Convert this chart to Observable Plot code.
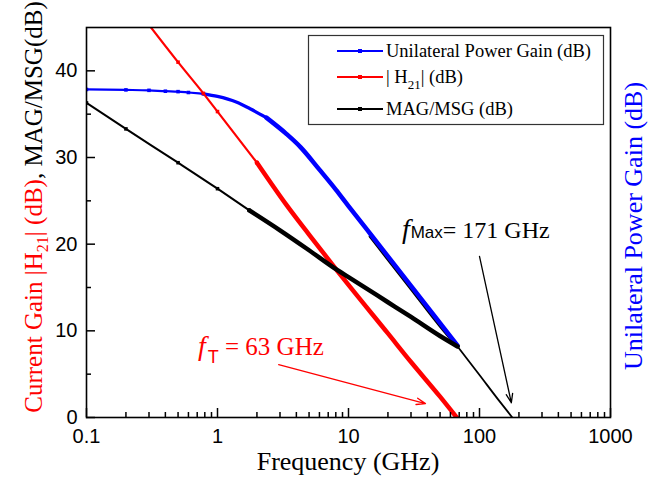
<!DOCTYPE html>
<html><head><meta charset="utf-8">
<script src="https://cdn.jsdelivr.net/npm/d3@7"></script>
<script src="https://cdn.jsdelivr.net/npm/@observablehq/plot@0.6"></script>
<style>
body{margin:0;background:#fff}
#chart{position:relative;width:658px;height:481px}
</style>
</head><body><div id="chart"></div>
<script>
// Unilateral power gain U (dB)
const freqU = [0.1, 0.2, 0.3, 0.4, 0.5, 0.6, 0.78, 1.0, 1.39, 1.79, 2.36, 3.37, 4.3, 6, 8, 10, 15, 20, 30, 50, 68];
const gainU = [37.85, 37.8, 37.75, 37.65, 37.6, 37.5, 37.35, 37.05, 36.4, 35.6, 34.6, 32.7, 31.2, 28.6, 26.3, 24.4, 21.0, 18.6, 15.2, 10.9, 8.3];
// |H21| (dB)
const freqH = [0.3, 0.5, 0.78, 1, 2, 3.37, 5, 8.24, 10, 20, 30, 50, 67];
const gainH = [45.3, 41.0, 37.4, 35.3, 29.4, 24.5, 21.1, 16.9, 15.3, 9.7, 6.4, 2.4, 0];
// MSG (dB)
const freqMsg = [0.1, 0.2, 0.5, 1, 1.75, 3, 5, 8.24, 10, 20, 30, 50, 68];
const gainMsg = [36.3, 33.3, 29.4, 26.4, 23.9, 21.6, 19.3, 17.0, 16.2, 13.3, 11.6, 9.4, 8.2];
// MAG (dB), along U, and its extrapolation to 0 dB
const freqMagU = [14.7, 20, 30, 50, 68];
const gainMagU = [20.9, 18.3, 14.9, 10.6, 8.2];
const freqMagTail = [68, 100, 140, 178];
const gainMagTail = [8.2, 4.9, 2.0, 0];

const seriesNames = ["Unilateral Power Gain (dB)", "|H21| (dB)", "MAG/MSG (dB)"];
const seriesColors = ["#0000ff", "#ff0000", "#000000"];

const xMajor = [0.1, 1, 10, 100, 1000];
const xMinor = [0.2,0.3,0.4,0.5,0.6,0.7,0.8,0.9,2,3,4,5,6,7,8,9,20,30,40,50,60,70,80,90,200,300,400,500,600,700,800,900];
const yMajor = [0, 10, 20, 30, 40];
const yMinor = [5, 15, 25, 35];

// annotation anchors (data units)
const fT = {label: "63 GHz", f: 0.716, v: 7.13};
const fMax = {label: "171 GHz", f: 25.8, v: 20.6};
const arrowsData = [
  {f1: 2.93, v1: 6.1, f2: 38.7, v2: 1.6, color: "#ff0000"},
  {f1: 100, v1: 18.6, f2: 175, v2: 1.7, color: "#000000"}
];

const rows = (fs, vs) => fs.map((f, i) => ({f, v: vs[i]}));
const rU = rows(freqU, gainU), rH = rows(freqH, gainH), rM = rows(freqMsg, gainMsg);
const rMU = rows(freqMagU, gainMagU), rMT = rows(freqMagTail, gainMagTail);
const seg = (r, a, b) => r.filter(d => d.f >= a && d.f <= b);

const serif = "'Liberation Serif','Times New Roman',serif";
const sans = "'Liberation Sans',Arial,sans-serif";

// inward tick lengths expressed in scale units (domain: x 0.1–1000 over 524px, y 0–45 over 390px)
const xTickMajorLen = 9 * 45 / 390, xTickMinorLen = 5 * 45 / 390;
const yTickMajorEnd = 0.1 * Math.pow(10, 9 / 131), yTickMinorEnd = 0.1 * Math.pow(10, 5 / 131);

const L = (data, stroke, w) => Plot.line(data, {x: "f", y: "v", stroke, strokeWidth: w, curve: "monotone-x", clip: true});
const D = (data, fill) => Plot.dot(data, {x: "f", y: "v", fill, r: 2, symbol: "square", clip: true});

const plot = Plot.plot({
  width: 658, height: 481,
  marginLeft: 86, marginRight: 48, marginTop: 27, marginBottom: 64,
  x: {type: "log", domain: [0.1, 1000]},
  y: {domain: [0, 45]},
  style: {fontFamily: sans, fontSize: "20px", color: "#000", background: "#fff", overflow: "visible"},
  marks: [
    L(rMU, "#000", 3.5),
    L(seg(rU, 0, 0.78), "#0000ff", 2.2),
    L(seg(rU, 0.78, 2.36), "#0000ff", 3.3),
    L(seg(rU, 2.36, 100), "#0000ff", 4.5),
    D(seg(rU, 0, 0.78), "#0000ff"),
    L(seg(rH, 0, 2), "#ff0000", 2.2),
    L(seg(rH, 2, 100), "#ff0000", 4.5),
    D(seg(rH, 0, 2), "#ff0000"),
    L(seg(rM, 0, 1.75), "#000", 2),
    L(seg(rM, 1.75, 100), "#000", 4.5),
    D(seg(rM, 0, 1.75), "#000"),
    L(rMT, "#000", 1.8),
    Plot.arrow(arrowsData, {x1: "f1", y1: "v1", x2: "f2", y2: "v2", stroke: "color", strokeWidth: 1.3, headLength: 11, headAngle: 40}),
    Plot.ruleX(xMajor, {x: d => d, y1: 0, y2: xTickMajorLen, stroke: "#000", strokeWidth: 1.5}),
    Plot.ruleX(xMinor, {x: d => d, y1: 0, y2: xTickMinorLen, stroke: "#000", strokeWidth: 1.5}),
    Plot.ruleY(yMajor, {y: d => d, x1: 0.1, x2: yTickMajorEnd, stroke: "#000", strokeWidth: 1.5}),
    Plot.ruleY(yMinor, {y: d => d, x1: 0.1, x2: yTickMinorEnd, stroke: "#000", strokeWidth: 1.5}),
    Plot.frame({stroke: "#000", strokeWidth: 1.6}),
    Plot.axisX({ticks: xMajor, tickSize: 0, tickPadding: 11, tickFormat: d => String(d), label: null, fontSize: 20}),
    Plot.axisY({ticks: yMajor, tickSize: 0, tickPadding: 9, tickFormat: d => String(d), label: null, fontSize: 20})
  ]
});
document.getElementById("chart").appendChild(plot);

const svg = d3.select(plot);
const xs = plot.scale("x"), ys = plot.scale("y");

// axis titles
svg.append("text").attr("x", 348).attr("y", 470).attr("text-anchor", "middle")
  .style("font-family", serif).style("font-size", "26px").attr("fill", "#000").text("Frequency (GHz)");

const yl = svg.append("text").attr("transform", "translate(42,207) rotate(-90)").attr("text-anchor", "middle")
  .style("font-family", serif).style("font-size", "25px");
yl.append("tspan").attr("fill", "#ff0000").text("Current Gain |H");
yl.append("tspan").attr("fill", "#ff0000").attr("dy", 6).style("font-size", "16px").text("21");
yl.append("tspan").attr("fill", "#ff0000").attr("dy", -6).text("| (dB)");
yl.append("tspan").attr("fill", "#000").text(", MAG/MSG(dB)");

svg.append("text").attr("transform", "translate(642,226) rotate(-90)").attr("text-anchor", "middle")
  .style("font-family", serif).style("font-size", "26px").attr("fill", "#0000ff").text("Unilateral Power Gain (dB)");

// annotations
const tT = svg.append("text").attr("x", xs.apply(fT.f)).attr("y", ys.apply(fT.v)).attr("fill", "#ff0000")
  .attr("text-anchor", "start").style("font-family", serif).style("font-size", "25px");
tT.append("tspan").style("font-style", "italic").style("font-size", "28px").text("f");
tT.append("tspan").style("font-family", sans).style("font-size", "18px").attr("dy", 8).attr("dx", 2).text("T");
tT.append("tspan").attr("dy", -8).text(" = " + fT.label);

const tM = svg.append("text").attr("x", xs.apply(fMax.f)).attr("y", ys.apply(fMax.v)).attr("fill", "#000")
  .attr("text-anchor", "start").style("font-family", serif).style("font-size", "24px");
tM.append("tspan").style("font-style", "italic").style("font-size", "28px").text("f");
tM.append("tspan").style("font-family", sans).style("font-size", "17px").attr("dx", 1).text("Max");
tM.append("tspan").text("= " + fMax.label);

// legend
const lg = svg.append("g");
lg.append("rect").attr("x", 308.5).attr("y", 35.5).attr("width", 295).attr("height", 89)
  .attr("fill", "#fff").attr("stroke", "#333").attr("stroke-width", 1.2);
const rowY = [51, 77, 109];
seriesNames.forEach((name, i) => {
  const g = lg.append("g");
  g.append("line").attr("x1", 337).attr("x2", 383).attr("y1", rowY[i]).attr("y2", rowY[i])
    .attr("stroke", seriesColors[i]).attr("stroke-width", 2.2);
  g.append("rect").attr("x", 358).attr("y", rowY[i] - 2).attr("width", 4).attr("height", 4).attr("fill", seriesColors[i]);
  const t = g.append("text").attr("x", 386).attr("y", rowY[i] + 6).attr("fill", "#000")
    .attr("text-anchor", "start").style("font-family", serif).style("font-size", "18.5px");
  if (name.startsWith("|H21|")) {
    t.append("tspan").text("| H");
    t.append("tspan").attr("dy", 6).style("font-size", "13px").text("21");
    t.append("tspan").attr("dy", -6).text("| (dB)");
  } else {
    t.text(name);
  }
});
</script>
</body></html>
